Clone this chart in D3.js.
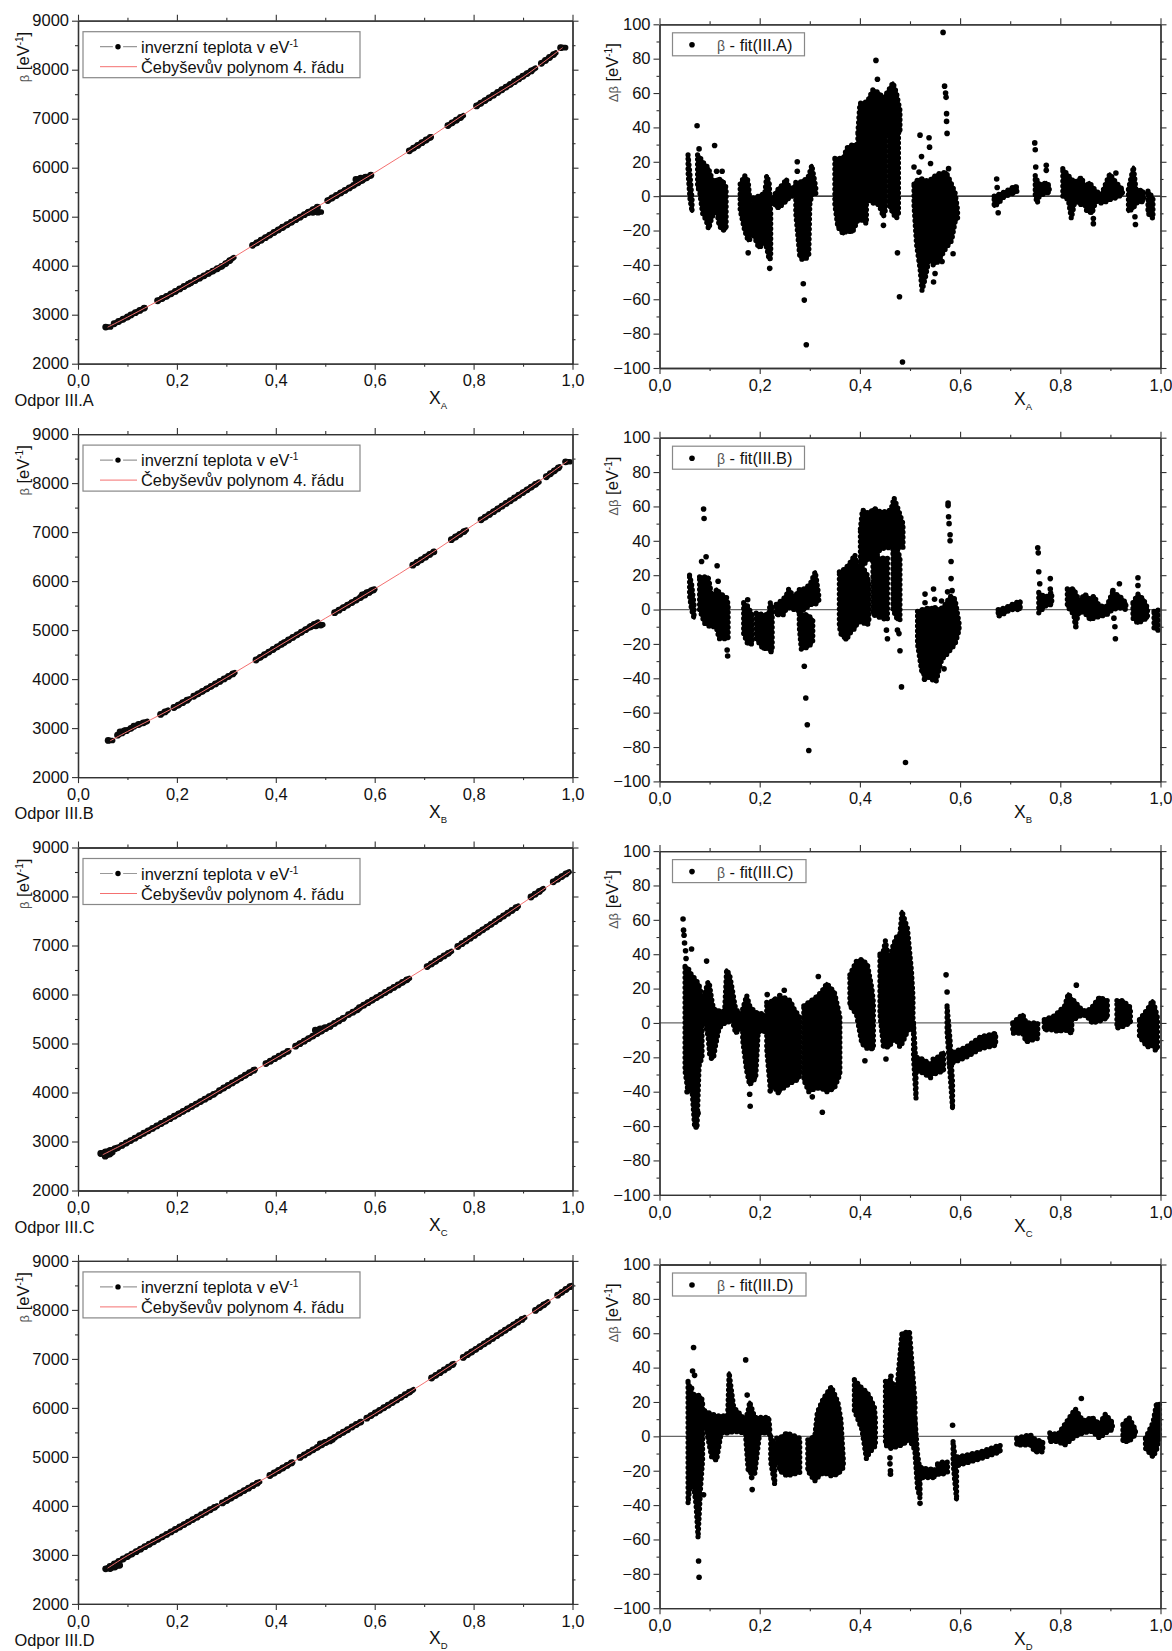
<!DOCTYPE html>
<html>
<head>
<meta charset="utf-8">
<script src="https://cdn.jsdelivr.net/npm/d3@7"></script>
<style>
html, body { margin: 0; padding: 0; background: #fff; }
svg { display: block; }
text { font-family: "Liberation Sans", Arial, sans-serif; fill: #111; }
</style>
</head>
<body>
<div id="chart"></div>
<script>
//ticks
var xTicks = [0, 0.2, 0.4, 0.6, 0.8, 1];
var xTickLabels = ["0,0", "0,2", "0,4", "0,6", "0,8", "1,0"];
var xMinor = [0.1, 0.3, 0.5, 0.7, 0.9];
var betaTicks = [2000, 3000, 4000, 5000, 6000, 7000, 8000, 9000];
var betaMinor = [2500, 3500, 4500, 5500, 6500, 7500, 8500];
var deltaTicks = [-100, -80, -60, -40, -20, 0, 20, 40, 60, 80, 100];
var deltaMinor = [-90, -70, -50, -30, -10, 10, 30, 50, 70, 90];

var letters = ["A", "B", "C", "D"];

//beta runs, each run is a stretch of measured points [x, beta]
var runsA = [
  [[.056, 2748], [.066, 2750]],
  [[.073, 2815], [.107, 2988]],
  [[.107, 2995], [.135, 3140]],
  [[.161, 3285], [.184, 3400]],
  [[.188, 3425], [.225, 3635]],
  [[.228, 3650], [.293, 4000], [.315, 4165]],
  [[.353, 4415], [.414, 4785]],
  [[.414, 4785], [.485, 5200]],
  [[.465, 5085], [.492, 5095]],
  [[.505, 5330], [.593, 5850]],
  [[.562, 5760], [.59, 5830]],
  [[.67, 6345], [.714, 6630]],
  [[.748, 6860], [.779, 7060]],
  [[.806, 7260], [.925, 8030]],
  [[.937, 8130], [.966, 8340]],
  [[.976, 8450], [.986, 8450]]
];
var runsB = [
  [[.061, 2748], [.07, 2748]],
  [[.08, 2855], [.11, 3010]],
  [[.085, 2920], [.095, 2950]],
  [[.113, 3040], [.14, 3135]],
  [[.167, 3280], [.182, 3365]],
  [[.194, 3420], [.225, 3595]],
  [[.234, 3650], [.295, 4000], [.317, 4130]],
  [[.36, 4390], [.417, 4745]],
  [[.417, 4745], [.485, 5160]],
  [[.471, 5075], [.495, 5109]],
  [[.519, 5355], [.6, 5835]],
  [[.575, 5720], [.595, 5815]],
  [[.677, 6325], [.72, 6600]],
  [[.755, 6845], [.785, 7040]],
  [[.815, 7250], [.932, 8020]],
  [[.947, 8130], [.974, 8330]],
  [[.986, 8435], [.995, 8435]]
];
var runsC = [
  [[.046, 2755], [.08, 2870]],
  [[.055, 2700], [.07, 2770]],
  [[.08, 2870], [.279, 3990]],
  [[.286, 4040], [.358, 4470]],
  [[.38, 4590], [.426, 4850]],
  [[.44, 4945], [.539, 5530]],
  [[.48, 5270], [.51, 5350]],
  [[.547, 5590], [.567, 5700]],
  [[.569, 5730], [.67, 6330]],
  [[.706, 6570], [.755, 6880]],
  [[.768, 6980], [.89, 7800]],
  [[.916, 7990], [.941, 8160]],
  [[.961, 8300], [.993, 8500]]
];
var runsD = [
  [[.056, 2715], [.281, 4000]],
  [[.065, 2720], [.085, 2790]],
  [[.292, 4060], [.367, 4490]],
  [[.388, 4620], [.434, 4890]],
  [[.449, 4990], [.547, 5565]],
  [[.49, 5265], [.515, 5345]],
  [[.554, 5610], [.573, 5720]],
  [[.584, 5790], [.678, 6370]],
  [[.715, 6610], [.76, 6900]],
  [[.779, 7030], [.903, 7840]],
  [[.925, 7990], [.95, 8160]],
  [[.97, 8300], [.998, 8495]]
];

//fitted polynomial [x, beta]
var fitA = [[.06, 2745], [.1, 2950], [.2, 3490], [.3, 4080], [.4, 4700], [.5, 5300], [.6, 5900], [.7, 6540], [.8, 7220], [.9, 7850], [.98, 8450]];
var fitB = [[.065, 2740], [.1, 2930], [.2, 3450], [.3, 4030], [.4, 4640], [.5, 5240], [.6, 5840], [.7, 6470], [.8, 7150], [.9, 7810], [.99, 8450]];
var fitC = [[.05, 2730], [.1, 2985], [.2, 3530], [.3, 4120], [.4, 4700], [.5, 5300], [.6, 5910], [.7, 6530], [.8, 7190], [.9, 7870], [.995, 8510]];
var fitD = [[.06, 2730], [.1, 2985], [.2, 3530], [.3, 4110], [.4, 4690], [.5, 5290], [.6, 5880], [.7, 6510], [.8, 7170], [.9, 7820], [1, 8510]];

//residual bands, each cluster is a list of columns [x, low, high]
var bandsA = [
  [[.057, 14, 24], [.061, -2, 12], [.065, -9, -2]],
  [[.076, 5, 24], [.08, 3, 23], [.086, -10, 20], [.093, -14, 18], [.098, -19, 16], [.104, -13, 11], [.108, -10, 8], [.112, -8, 9], [.115, -10, 10], [.119, -17, 10], [.126, -20, 9], [.133, -19, 5]],
  [[.161, -8, 7], [.17, -20, 12], [.177, -26, 9], [.181, -25, -5]],
  [[.187, -22, -1], [.198, -30, 0], [.203, -29, 1], [.21, -27, 1], [.214, -30, 12], [.219, -37, 8], [.222, -36, -10]],
  [[.226, -3, -1], [.232, -6, 2], [.239, -7, 5], [.247, -4, 7], [.253, -3, 10], [.261, 0, 3], [.269, 0, 6]],
  [[.272, -10, 8], [.28, -35, 8], [.285, -37, 9], [.294, -36, 10], [.298, -34, 12], [.3, -5, 14], [.304, 1, 18], [.312, 1, 5]],
  [[.35, -5, 22], [.356, -18, 22], [.367, -22, 22], [.374, -20, 28], [.385, -21, 30], [.396, -14, 30], [.407, -14, 30], [.413, -16, 30]],
  [[.396, 30, 37], [.4, 32, 54], [.415, 30, 55], [.426, 30, 62], [.438, 36, 60], [.447, 37, 57], [.458, 37, 62], [.466, 37, 66], [.473, 37, 60], [.48, 37, 50]],
  [[.415, -2, 40], [.426, -4, 40], [.438, -5, 40], [.447, -12, 40], [.451, -8, 38]],
  [[.458, -5, 40], [.466, -10, 40], [.473, -13, 40], [.477, -10, 40]],
  [[.508, -5, 7], [.513, -28, 9], [.52, -42, 10], [.524, -55, 10], [.531, -47, 9], [.539, -35, 9], [.546, -40, 11], [.557, -38, 13], [.572, -30, 14], [.583, -26, 7], [.59, -15, 2], [.595, -13, -8]],
  [[.668, -6, 0], [.677, -4, 1], [.685, -1, 2], [.699, 1, 4], [.71, 2, 6], [.714, 3, 5]],
  [[.75, 0, 12], [.754, -4, 9], [.758, 0, 7], [.765, 1, 7], [.772, 2, 8], [.778, 2, 6]],
  [[.805, 0, 16], [.816, -2, 12], [.822, -13, 10], [.829, -3, 8], [.842, -5, 11], [.849, -5, 6], [.853, -9, 6], [.858, -9, 8], [.863, -10, 6], [.871, -3, 3], [.882, -4, 1], [.893, -3, 9], [.899, -2, 13], [.911, -1, 8], [.924, 1, 4]],
  [[.936, -9, 4], [.946, -7, 17], [.951, -4, 4], [.966, -3, 3]],
  [[.975, -10, 3], [.985, -13, -1]]
];
var bandsB = [
  [[.06, 8, 20], [.064, 0, 15], [.069, -5, 3]],
  [[.08, 0, 19], [.09, -8, 19], [.097, -9, 19], [.1, -10, 15], [.104, -10, 8], [.112, -10, 10], [.114, -11, 12], [.119, -17, 10], [.123, -17, 9], [.134, -17, 7], [.137, -17, 3]],
  [[.168, -14, 4], [.176, -20, 2], [.185, -20, -3]],
  [[.193, -17, -2], [.207, -23, -3], [.218, -22, -3], [.221, -25, 4], [.225, -24, 2]],
  [[.233, -3, 3], [.247, -3, 6], [.254, 1, 9], [.258, 1, 12], [.269, 0, 7], [.28, -1, 12], [.29, 0, 12], [.301, 3, 15], [.311, 3, 22], [.318, 5, 8]],
  [[.279, -10, 0], [.283, -23, -3], [.295, -22, -3], [.303, -20, -5], [.306, -18, -6]],
  [[.359, -10, 22], [.363, -15, 22], [.374, -17, 25], [.382, -13, 28], [.39, -11, 32], [.396, -7, 24], [.409, -8, 23], [.415, -9, 20], [.418, -7, 15]],
  [[.401, 22, 47], [.405, 25, 58], [.418, 30, 56], [.429, 28, 59], [.44, 35, 57], [.451, 36, 57], [.462, 36, 58], [.468, 36, 65], [.477, 36, 58], [.486, 36, 50]],
  [[.426, -3, 30], [.444, -5, 30], [.455, -6, 30]],
  [[.466, 0, 35], [.475, -6, 35], [.48, -6, 30]],
  [[.515, -20, -1], [.524, -37, 0], [.539, -40, 1], [.552, -42, 0], [.564, -28, 1], [.568, -28, 2], [.579, -24, 7], [.582, -23, 8], [.59, -20, 6], [.598, -12, -8]],
  [[.676, -4, 0], [.69, -2, 1], [.7, 0, 2.5], [.72, 0, 5]],
  [[.757, -2, 10], [.77, 2, 7], [.783, 3, 10]],
  [[.814, 2, 12], [.827, -3, 12], [.83, -9, 10], [.838, -1, 5], [.849, -2, 9], [.86, -6, 6], [.867, -5, 8], [.878, -4, 2], [.893, -3, 2], [.904, 0, 10], [.918, 1, 8], [.931, 0, 4]],
  [[.945, -5, 4], [.955, -8, 9], [.966, -6, 6], [.974, -5, 1]],
  [[.987, -11, -1], [.995, -12, 0]]
];
var bandsC = [
  [[.051, -28, 33], [.057, -40, 32], [.064, -35, 28], [.07, -60, 26], [.075, -60, 24], [.079, -25, 22], [.085, -20, 15]],
  [[.088, 5, 15], [.097, -8, 24], [.1, -18, 22], [.104, -21, 14], [.108, -20, 8], [.112, -13, 8], [.119, -3, 7], [.13, 0, 7], [.134, 0, 31], [.14, 1, 28], [.145, 2, 20], [.152, -6, 8], [.163, -3, 5]],
  [[.166, -10, 8], [.174, -28, 16], [.18, -36, 10], [.192, -32, 6], [.197, -5, 6], [.209, -5, 5]],
  [[.214, -15, 12], [.221, -38, 12], [.228, -37, 14], [.236, -40, 14], [.247, -38, 15], [.261, -35, 13], [.269, -34, 8], [.276, -33, 5], [.281, -30, 3]],
  [[.288, -33, 10], [.298, -40, 12], [.312, -38, 15], [.323, -38, 18], [.334, -40, 23], [.349, -38, 18], [.36, -30, 4]],
  [[.38, 10, 28], [.393, 5, 36], [.404, -12, 37], [.415, -15, 34], [.424, -15, 20], [.427, -15, 12]],
  [[.44, 5, 40], [.447, -14, 42], [.451, -14, 48], [.458, -14, 35], [.466, -10, 45], [.473, -10, 50], [.48, -14, 52], [.484, -12, 65], [.495, -5, 55], [.503, 0, 30], [.506, -5, 15]],
  [[.507, -20, 0], [.512, -44, -25]],
  [[.514, -28, -20], [.525, -29, -21], [.542, -32, -24]],
  [[.546, -30, -21], [.555, -29, -20], [.567, -28, -17]],
  [[.574, -5, 10], [.58, -30, -10], [.585, -50, -35]],
  [[.578, -24, -18], [.612, -20, -14], [.641, -15, -8], [.671, -13, -6]],
  [[.705, -6, 0], [.725, -6, 5], [.732, -11, 0], [.755, -9, 0]],
  [[.768, -4, 2], [.787, -4, 4], [.795, -5, 6], [.809, -4, 10], [.816, -5, 17], [.823, -6, 14]],
  [[.827, 2, 13], [.845, 5, 7], [.86, 2, 8], [.863, 0, 9], [.878, 1, 15], [.894, 3, 13]],
  [[.913, -3, 13], [.925, -2, 13], [.94, 0, 9]],
  [[.958, -8, 2], [.974, -14, 8], [.984, -13, 13], [.99, -16, 8], [.994, -15, 3]]
];
var bandsD = [
  [[.057, -39, 32], [.064, -20, 25], [.073, -40, 24], [.077, -59, 24], [.082, -30, 23], [.086, -14, 21]],
  [[.09, 9, 15], [.104, -12, 13], [.114, -14, 12], [.123, 2, 12], [.136, 2, 12], [.139, 2, 37], [.148, 3, 17], [.17, 2, 10]],
  [[.172, 0, 10], [.177, -20, 15], [.18, -21, 20], [.19, -22, 11], [.2, 2, 11], [.218, 2, 11], [.22, 0, 5]],
  [[.222, -15, 0], [.23, -28, -5]],
  [[.234, -10, -1], [.24, -20, -1], [.254, -23, 2], [.28, -21, -1]],
  [[.296, -20, -2], [.31, -26, 0], [.315, -24, 14], [.327, -21, 22], [.343, -23, 29], [.356, -22, 20], [.362, -20, 10], [.367, -18, -14]],
  [[.389, 15, 33], [.404, 4, 28], [.413, -13, 26], [.418, -10, 24], [.429, -6, 17], [.431, -6, 10]],
  [[.451, -5, 32], [.462, -7, 33], [.473, -6, 25], [.484, -5, 60], [.499, -2, 61], [.51, -8, 20]],
  [[.51, -10, 10], [.515, -30, -10], [.52, -36, -20]],
  [[.522, -24, -18], [.535, -24, -19], [.55, -24, -19]],
  [[.555, -22, -16], [.565, -22, -15], [.575, -21, -15]],
  [[.586, -15, -3], [.589, -25, -10], [.593, -37, -20]],
  [[.595, -17, -12], [.641, -13, -9], [.68, -9, -5]],
  [[.713, -5, -1], [.74, -5, 1], [.75, -9, -2], [.765, -9, -3]],
  [[.779, -3, 2], [.795, -3, 1], [.809, -5, 7], [.83, 0, 16], [.845, 2, 9], [.864, 3, 11], [.878, -1, 7], [.89, 2, 13], [.904, 4, 8]],
  [[.925, -3, 7], [.937, -3, 11], [.95, 1, 4]],
  [[.97, -7, -1], [.985, -12, 8], [.992, -8, 19], [.998, 0, 19]]
];

//single points outside the bands [x, dbeta]
var outliersA = [[.075, 41], [.079, 27.5], [.11, 29.5], [.114, 14.5], [.125, 14.5], [.177, -33], [.22, -42], [.275, 20], [.275, 14.5], [.287, -51], [.289, -60.5], [.293, -86.5], [.432, 79], [.435, 68], [.447, -17], [.475, -33], [.479, -58.5], [.485, -96.5], [.508, 17], [.52, 35.5], [.523, 23], [.518, 14], [.538, 34], [.539, 28.5], [.541, 19], [.547, -50], [.55, -45], [.564, -38], [.586, -33.5], [.566, 95.3], [.569, 64], [.571, 60], [.572, 57.5], [.573, 48], [.573, 43.5], [.574, 36.5], [.577, 16], [.673, 10], [.674, 5], [.676, -9.7], [.749, 31], [.75, 27], [.751, 17], [.772, 18], [.772, 15], [.911, 13.5], [.864, -8.5], [.866, -13], [.866, -16], [.949, -12], [.95, -16.5]];
var outliersB = [[.088, 58.5], [.089, 53], [.084, 28], [.093, 30.7], [.115, 25.5], [.117, 16.5], [.135, -23.5], [.136, -27], [.176, 5.7], [.289, -33], [.292, -51.5], [.295, -67], [.298, -82], [.372, -17], [.453, -12], [.455, -17], [.475, -12], [.478, -14], [.48, -24], [.483, -45], [.491, -89], [.529, -40.5], [.53, 9], [.53, 4], [.547, 12], [.549, 6], [.55, 1], [.568, -34.5], [.576, 62], [.576, 60.5], [.577, 54], [.578, 50], [.58, 43.5], [.58, 40], [.582, 28], [.582, 18], [.575, 10.3], [.584, 11], [.563, 5], [.755, 36], [.756, 33], [.757, 22], [.759, 15], [.78, 18], [.78, 12], [.83, -7], [.831, -10], [.907, -5], [.909, -10], [.91, -17], [.918, 15], [.905, 11], [.955, 18.5], [.955, 14]];
var outliersC = [[.047, 60.5], [.048, 54], [.049, 51], [.05, 46.5], [.052, 42], [.053, 37.5], [.064, 43], [.055, -40], [.077, -52.5], [.073, -60.5], [.094, 36], [.18, -41.5], [.181, -48.5], [.215, 16.5], [.24, 16], [.249, 19], [.221, -39.5], [.237, -40.5], [.317, 27], [.305, -43], [.325, -52], [.41, -22], [.452, -21], [.572, 28], [.574, 18], [.832, 22]];
var outliersD = [[.068, 51.7], [.066, 38], [.07, 35.5], [.064, 28], [.078, -72.5], [.079, -82], [.088, -34], [.172, 44.5], [.175, 24], [.184, -24], [.185, -31], [.462, 35], [.46, -12.5], [.46, -16], [.461, -20], [.461, -22], [.477, 27.5], [.52, -39], [.585, 6.5], [.842, 22]];

var runs = [runsA, runsB, runsC, runsD];
var fits = [fitA, fitB, fitC, fitD];
var bands = [bandsA, bandsB, bandsC, bandsD];
var outliers = [outliersA, outliersB, outliersC, outliersD];

var width = 1172;
var height = 1651;
var rowStep = 413.4;
var fontSize = 16.5;
var legendFont = 16.4;

var svg = d3.select('#chart')
  .append('svg')
  .attr('width', width)
  .attr('height', height);

//ticks on all four sides, minor ones without labels
function frame(g, x, y, yTicks, yMinor) {
  var w = x.range()[1], h = y.range()[0];
  function draw(axis, tr) {
    var a = g.append('g').attr('transform', tr).call(axis);
    a.selectAll('path').attr('stroke', '#333').attr('stroke-width', 1.3);
    a.selectAll('line').attr('stroke', '#333').attr('stroke-width', 1.1);
    a.selectAll('text').attr('font-size', fontSize).attr('font-family', '"Liberation Sans", Arial, sans-serif').attr('fill', '#111');
    return a;
  }
  var xLab = function (d, i) { return xTickLabels[i]; };
  draw(d3.axisBottom(x).tickValues(xMinor).tickSize(3).tickSizeOuter(0).tickFormat(''), 'translate(0,' + h + ')');
  draw(d3.axisTop(x).tickValues(xMinor).tickSize(3).tickSizeOuter(0).tickFormat(''), 'translate(0,0)');
  draw(d3.axisLeft(y).tickValues(yMinor).tickSize(3).tickSizeOuter(0).tickFormat(''), 'translate(0,0)');
  draw(d3.axisRight(y).tickValues(yMinor).tickSize(3).tickSizeOuter(0).tickFormat(''), 'translate(' + w + ',0)');
  draw(d3.axisBottom(x).tickValues(xTicks).tickSize(6).tickSizeOuter(0).tickPadding(5).tickFormat(xLab), 'translate(0,' + h + ')');
  draw(d3.axisTop(x).tickValues(xTicks).tickSize(6).tickSizeOuter(0).tickFormat(''), 'translate(0,0)');
  draw(d3.axisLeft(y).tickValues(yTicks).tickSize(6).tickSizeOuter(0).tickPadding(3).tickFormat(d3.format('d')), 'translate(0,0)');
  draw(d3.axisRight(y).tickValues(yTicks).tickSize(6).tickSizeOuter(0).tickFormat(''), 'translate(' + w + ',0)');
}

//"X" with the letter of the resistor set below it
function xTitle(g, px, py, letter) {
  var t = g.append('text').attr('x', px).attr('y', py).attr('font-size', 17.5);
  t.append('tspan').text('X');
  t.append('tspan').attr('dy', 5).attr('font-size', 9.5).text(letter);
}

//rotated y title, the greek part is smaller and grey
function yTitle(g, px, py, greek) {
  var t = g.append('text')
    .attr('transform', 'translate(' + px + ',' + py + ') rotate(-90)')
    .attr('font-size', 16.5);
  t.append('tspan').attr('font-size', 13).style('fill', '#555').text(greek);
  t.append('tspan').text(' [eV');
  t.append('tspan').attr('dy', -6).attr('font-size', 10).text('-1');
  t.append('tspan').attr('dy', 6).text(']');
}

letters.forEach(function (letter, r) {
  var top = 20.7 + r * rowStep;
  var topR = 24.3 + r * rowStep;

  //left column
  var left = svg.append('g').attr('transform', 'translate(78,' + top + ')');
  var x = d3.scaleLinear().domain([0, 1]).range([0, 494.5]);
  var y = d3.scaleLinear().domain([2000, 9000]).range([343, 0]);
  var line = d3.line()
    .x(function (d) { return x(d[0]); })
    .y(function (d) { return y(d[1]); });

  //solid core plus round dots along it, so the edge looks like overlapping markers
  left.selectAll('path.run')
    .data(runs[r])
    .enter()
    .append('path')
    .attr('class', 'run')
    .attr('d', line)
    .attr('fill', 'none')
    .attr('stroke', '#0a0a0a')
    .attr('stroke-width', 5.6)
    .attr('stroke-linecap', 'round')
    .attr('stroke-linejoin', 'round');
  left.selectAll('path.rundots')
    .data(runs[r])
    .enter()
    .append('path')
    .attr('class', 'rundots')
    .attr('d', line)
    .attr('fill', 'none')
    .attr('stroke', '#0a0a0a')
    .attr('stroke-width', 6.8)
    .attr('stroke-linecap', 'round')
    .attr('stroke-dasharray', '0 5');

  left.append('path')
    .attr('d', line.curve(d3.curveCatmullRom)(fits[r]))
    .attr('fill', 'none')
    .attr('stroke', '#f47070')
    .attr('stroke-width', 1);

  frame(left, x, y, betaTicks, betaMinor);

  //legend
  var lg = left.append('g').attr('transform', 'translate(5,11)');
  lg.append('rect').attr('width', 277).attr('height', 46).attr('fill', '#fff').attr('stroke', '#888').attr('stroke-width', 1.2);
  lg.append('line').attr('x1', 17).attr('x2', 54).attr('y1', 15).attr('y2', 15).attr('stroke', '#999').attr('stroke-width', 1.2);
  lg.append('circle').attr('cx', 35).attr('cy', 15).attr('r', 2.7).attr('fill', '#000').attr('stroke', '#fff').attr('stroke-width', 5).attr('paint-order', 'stroke');
  lg.append('line').attr('x1', 17).attr('x2', 54).attr('y1', 35).attr('y2', 35).attr('stroke', '#f47070').attr('stroke-width', 1);
  var l1 = lg.append('text').attr('x', 58).attr('y', 21).attr('font-size', legendFont);
  l1.append('tspan').text('inverzní teplota v eV');
  l1.append('tspan').attr('dy', -6).attr('font-size', 10).text('-1');
  lg.append('text').attr('x', 58).attr('y', 41).attr('font-size', legendFont).text('Čebyševův polynom 4. řádu');

  left.append('text').attr('x', -63.5).attr('y', 385).attr('font-size', legendFont).text('Odpor III.' + letter);
  xTitle(left, 351, 383.5, letter);
  yTitle(left, -49, 61.5, 'β');

  //right column
  var right = svg.append('g').attr('transform', 'translate(659.5,' + topR + ')');
  var xr = d3.scaleLinear().domain([0, 1]).range([0, 501]);
  var yr = d3.scaleLinear().domain([-100, 100]).range([343.7, 0]);
  var area = d3.area()
    .x(function (d) { return xr(d[0]); })
    .y0(function (d) { return yr(d[1]); })
    .y1(function (d) { return yr(d[2]); });

  //zero line is black only in the first panel, it stays behind the points
  right.append('line')
    .attr('x1', 0).attr('x2', 501)
    .attr('y1', yr(0)).attr('y2', yr(0))
    .attr('stroke', r === 0 ? '#000' : '#666')
    .attr('stroke-width', 1.3);

  right.selectAll('path.band')
    .data(bands[r])
    .enter()
    .append('path')
    .attr('class', 'band')
    .attr('d', area)
    .attr('fill', '#000')
    .attr('stroke', '#000')
    .attr('stroke-width', 3)
    .attr('stroke-linejoin', 'round');
  //dotted outline for the marker look of the edge
  right.selectAll('path.banddots')
    .data(bands[r])
    .enter()
    .append('path')
    .attr('class', 'banddots')
    .attr('d', area)
    .attr('fill', 'none')
    .attr('stroke', '#000')
    .attr('stroke-width', 5.2)
    .attr('stroke-linecap', 'round')
    .attr('stroke-dasharray', '0 5');

  right.selectAll('circle.out')
    .data(outliers[r])
    .enter()
    .append('circle')
    .attr('class', 'out')
    .attr('cx', function (d) { return xr(d[0]); })
    .attr('cy', function (d) { return yr(d[1]); })
    .attr('r', 2.8)
    .attr('fill', '#000');

  frame(right, xr, yr, deltaTicks, deltaMinor);

  var lgr = right.append('g').attr('transform', 'translate(13,8.5)');
  lgr.append('rect').attr('width', r < 2 ? 132 : 133.5).attr('height', 23).attr('fill', '#fff').attr('stroke', '#888').attr('stroke-width', 1.2);
  lgr.append('circle').attr('cx', 19.5).attr('cy', 12).attr('r', 2.8).attr('fill', '#000');
  var lr = lgr.append('text').attr('x', 44.5).attr('y', 18).attr('font-size', legendFont);
  lr.append('tspan').attr('font-size', 14).style('fill', '#555').text('β');
  lr.append('tspan').text(' - fit(III.' + letter + ')');

  xTitle(right, 354.5, 380.5, letter);
  yTitle(right, -41.5, 78, 'Δβ');
});
</script>
</body>
</html>
